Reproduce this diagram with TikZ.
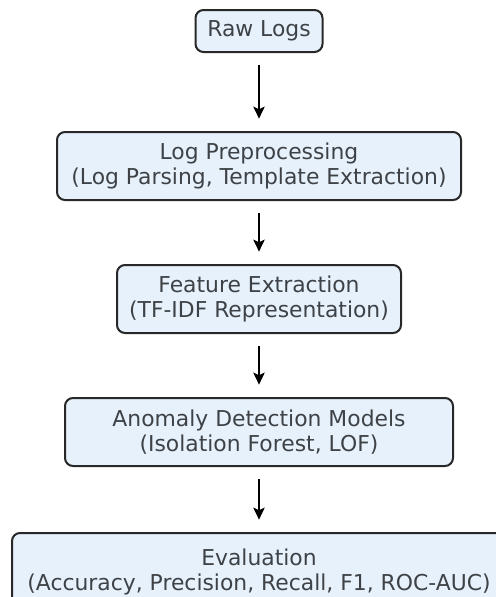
\documentclass[tikz,border=0pt]{standalone}
\usepackage{fontspec}
\setmainfont{DejaVu Sans}
\usepackage{tikz}
\usetikzlibrary{arrows.meta,positioning}
\definecolor{boxfill}{RGB}{230,241,252}
\definecolor{boxline}{RGB}{40,40,40}
\definecolor{txtgray}{RGB}{62,66,70}

\begin{document}
\begin{tikzpicture}[x=0.75pt,y=-0.75pt,
    stagebox/.style={draw=boxline,fill=boxfill,line width=1.5pt,rounded corners=6pt,align=center,outer sep=0pt,
                     text=txtgray,font=\fontsize{16.4pt}{18.8pt}\selectfont,minimum height=51pt,inner sep=2pt},
    flowarrow/.style={-{Stealth[length=9pt,width=8.5pt,inset=2pt]},line width=1.6pt,black,
                      shorten <=10pt,shorten >=10pt}]
  \clip (0,0) rectangle (496,597);
  \fill[white] (0,0) rectangle (496,597);
  \node[stagebox,minimum width=95.25pt,minimum height=31.5pt] (raw) at (259,31) {Raw Logs};
  \node[stagebox,minimum width=303pt,below=60pt of raw] (prep) {Log Preprocessing\\(Log Parsing, Template Extraction)};
  \node[stagebox,minimum width=213pt,below=48.75pt of prep] (feat) {Feature Extraction\\(TF-IDF Representation)};
  \node[stagebox,minimum width=291pt,below=48.75pt of feat] (model) {Anomaly Detection Models\\(Isolation Forest, LOF)};
  \node[stagebox,minimum width=370.5pt,minimum height=58.5pt,below=50.25pt of model] (eval) {Evaluation\\(Accuracy, Precision, Recall, F1, ROC-AUC)};
  \foreach \u/\v in {raw/prep,prep/feat,feat/model,model/eval} \draw[flowarrow] (\u) -- (\v);
\end{tikzpicture}
\end{document}
